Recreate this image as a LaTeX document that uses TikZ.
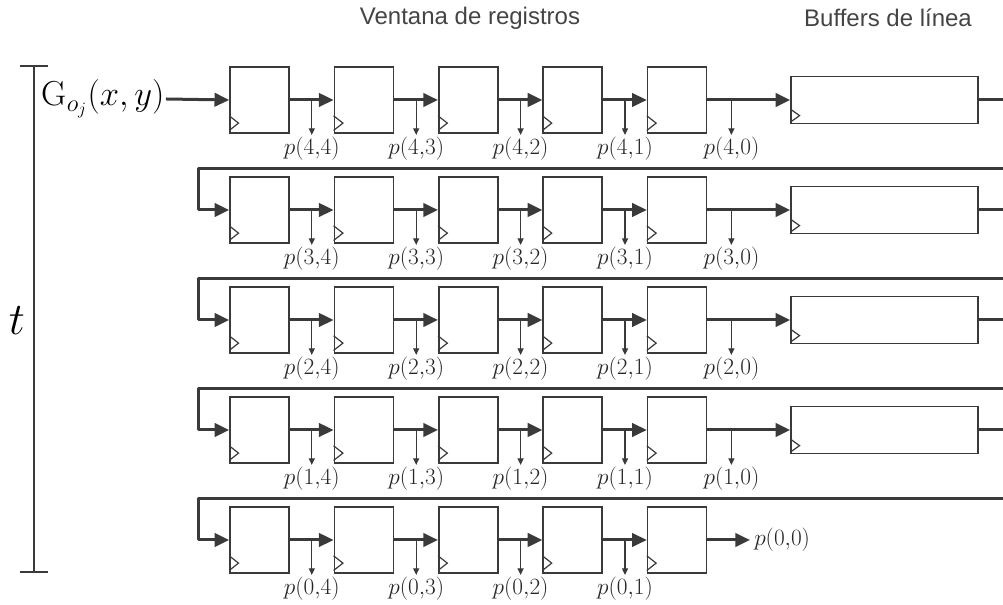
\RequirePackage{fix-cm}
\documentclass[tikz,border=0pt]{standalone}
\usepackage{fontspec}
\setsansfont{Liberation Sans}
\usetikzlibrary{arrows.meta,calc}
\definecolor{Wire}{HTML}{3A3A3A}
\definecolor{Caption}{HTML}{444444}

\begin{document}
\begin{tikzpicture}[x=0.75pt,y=0.75pt,
    reg/.style={draw=Wire,line width=1.2pt,minimum width=44.25pt,minimum height=49.5pt,inner sep=0pt},
    linebuf/.style={draw=Wire,line width=1.2pt,minimum width=140.25pt,minimum height=35.25pt,inner sep=0pt},
    bus/.style={Wire,line width=2.25pt,line join=round,-{Triangle[length=11pt,width=10pt]}},
    tap/.style={Wire,line width=1pt,-{Triangle[length=5pt,width=4.5pt]}},
    clk/.style={Wire,line width=0.9pt},
    plab/.style={font=\fontsize{17.5}{20}\selectfont,text=black!85,inner sep=1pt}]
  \useasboundingbox (0,0) rectangle (1003,605);
  % titles
  \node[font=\sffamily\fontsize{18}{20}\selectfont,text=Caption] (hdwin) at (470,587) {Ventana de registros};
  \node[font=\sffamily\fontsize{18}{20}\selectfont,text=Caption] (hdbuf) at (888,587) {Buffers de línea};
  % time axis
  \draw[Wire,line width=1pt] (20,539) -- (48,539) (34,539) -- (34,33) (20,33) -- (48,33);
  \node[font=\fontsize{34}{36}\selectfont] (tlab) at (17,284) {$t$};
  % registers
  \foreach \row in {0,...,4}{
    \pgfmathsetmacro\yy{65+110*\row}
    \foreach \col in {0,...,4}{
      \node[reg] (r\row\col) at (259.5+104.4*\col,\yy) {};
      \draw[clk] ([yshift=2.5pt]r\row\col.south west) -- ++(7pt,5.5pt) -- ++(-7pt,5.5pt);
    }
  }
  % line buffers
  \foreach \row in {1,...,4}{
    \node[linebuf] (b\row) at (884.5,65+110*\row) {};
    \draw[clk] ([yshift=1.5pt]b\row.south west) -- ++(7pt,5pt) -- ++(-7pt,5pt);
  }
  % input
  \node[anchor=east,inner sep=1pt,font=\fontsize{26}{28}\selectfont] (gin) at (166,506) {$\mathrm{G}_{o_j}(x,y)$};
  \draw[bus] (gin.east) -- (r40.west);
  % shifts and taps
  \foreach \row in {0,...,4}{
    \foreach \col [evaluate=\col as \nxt using int(\col+1), evaluate=\col as \k using int(4-\col)] in {0,...,3}{
      \draw[bus] (r\row\col.east) -- (r\row\nxt.west);
      \coordinate (t\row\col) at ([xshift=16.5pt]r\row\col.east);
      \draw[tap] (t\row\col) -- ++(0,-35) node[below,plab] (p\row\k) {$p(\row{,}\k)$};
    }
  }
  % into the buffers and back
  \foreach \row [evaluate=\row as \prv using int(\row-1)] in {1,...,4}{
    \draw[bus] (r\row4.east) -- (b\row.west);
    \coordinate (t\row4) at ([xshift=18pt]r\row4.east);
    \draw[tap] (t\row4) -- ++(0,-35) node[below,plab] (p\row0) {$p(\row{,}0)$};
    \coordinate (e\row) at (1012,65+110*\row);
    \coordinate (w\row) at (198,65+110*\prv+41);
    \draw[bus] (b\row.east) -- (e\row) |- (w\row) |- (r\prv0.west);
  }
  % last output
  \node[plab,anchor=west,inner sep=3pt] (p00) at (750,65) {$p(0{,}0)$};
  \draw[bus] (r04.east) -- (p00.west);
\end{tikzpicture}
\end{document}
